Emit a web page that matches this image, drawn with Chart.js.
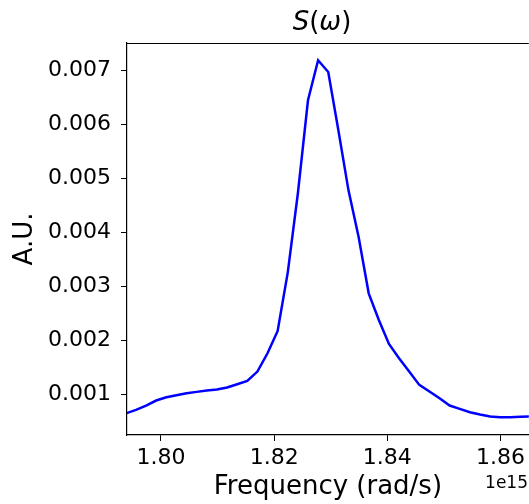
<!DOCTYPE html>
<html>
<head>
<meta charset="utf-8">
<script src="https://cdn.jsdelivr.net/npm/chart.js@4.4.1/dist/chart.umd.min.js"></script>
<style>
  html, body { margin: 0; padding: 0; background: #fff; }
  canvas { display: block; }
</style>
</head>
<body>
<canvas id="chart" width="529" height="504"></canvas>
<script>
// frequency in units of 1e15 rad/s
const freq = [
  1.79380, 1.79559, 1.79737, 1.79916, 1.80095, 1.80274, 1.80453, 1.80631,
  1.80810, 1.80989, 1.81168, 1.81347, 1.81525, 1.81704, 1.81883, 1.82062,
  1.82241, 1.82419, 1.82598, 1.82777, 1.82956, 1.83135, 1.83313, 1.83492,
  1.83671, 1.83850, 1.84029, 1.84207, 1.84386, 1.84565, 1.84744, 1.84923,
  1.85101, 1.85280, 1.85459, 1.85638, 1.85817, 1.85995, 1.86174, 1.86353,
  1.86532
];
const signal = [
  0.000650, 0.000715, 0.000795, 0.000888, 0.000949, 0.000987, 0.001023, 0.001048,
  0.001073, 0.001091, 0.001128, 0.001190, 0.001251, 0.001424, 0.001763, 0.002176,
  0.003260, 0.004720, 0.006445, 0.007185, 0.006969, 0.005891, 0.004782, 0.003919,
  0.002872, 0.002379, 0.001935, 0.001670, 0.001424, 0.001177, 0.001054, 0.000931,
  0.000795, 0.000734, 0.000672, 0.000629, 0.000592, 0.000580, 0.000580, 0.000586,
  0.000592
];
const xTicks = [1.80, 1.82, 1.84, 1.86];
const yTicks = [0.001, 0.002, 0.003, 0.004, 0.005, 0.006, 0.007];

const FONT = "'DejaVu Sans', sans-serif";

// title S(ω) in mathtext style, top spine and the 1e15 offset
const extras = {
  id: 'extras',
  afterDraw(chart) {
    const { ctx, chartArea } = chart;
    ctx.save();
    ctx.strokeStyle = '#000';
    ctx.lineWidth = 1.2;
    ctx.beginPath();
    ctx.moveTo(chartArea.left, chartArea.top + 0.5);
    ctx.lineTo(chartArea.right, chartArea.top + 0.5);
    ctx.stroke();

    ctx.fillStyle = '#000';
    ctx.textBaseline = 'alphabetic';
    const parts = [['S', 'italic'], ['(', 'normal'], ['ω', 'italic'], [')', 'normal']];
    let w = 0;
    parts.forEach(p => { ctx.font = p[1] + ' 26px ' + FONT; w += ctx.measureText(p[0]).width; });
    let x = 322 - w / 2;
    parts.forEach(p => {
      ctx.font = p[1] + ' 26px ' + FONT;
      ctx.fillText(p[0], x, 30);
      x += ctx.measureText(p[0]).width;
    });

    ctx.font = '17px ' + FONT;
    ctx.textAlign = 'right';
    ctx.fillText('1e15', 528, 488);
    ctx.restore();
  }
};

new Chart(document.getElementById('chart'), {
  type: 'line',
  data: {
    datasets: [{
      data: freq.map((f, i) => ({ x: f, y: signal[i] })),
      borderColor: '#0000ff',
      borderWidth: 2.5,
      pointRadius: 0,
      tension: 0,
      fill: false,
      clip: 0
    }]
  },
  options: {
    responsive: false,
    animation: false,
    devicePixelRatio: 1,
    layout: { padding: { top: 43, right: 0, left: 0, bottom: 0 } },
    plugins: { legend: { display: false }, title: { display: false }, tooltip: { enabled: false } },
    scales: {
      x: {
        type: 'linear',
        min: 1.794,
        max: 1.865,
        afterBuildTicks: s => { s.ticks = xTicks.map(v => ({ value: v })); },
        afterFit: s => { s.height = 69; },
        grid: { drawOnChartArea: false, tickLength: 6, color: '#000', tickWidth: 1 },
        border: { display: true, color: '#000', width: 1.2 },
        ticks: {
          color: '#000',
          font: { family: FONT, size: 22 },
          padding: 4,
          maxRotation: 0,
          callback: v => v.toFixed(2)
        },
        title: {
          display: true,
          text: 'Frequency (rad/s)',
          color: '#000',
          font: { family: FONT, size: 26 },
          padding: { top: 0, bottom: 1 }
        }
      },
      y: {
        type: 'linear',
        min: 0.00025,
        max: 0.007505,
        afterBuildTicks: s => { s.ticks = yTicks.map(v => ({ value: v })); },
        afterFit: s => { s.width = 127; },
        grid: { drawOnChartArea: false, tickLength: 6, color: '#000', tickWidth: 1 },
        border: { display: true, color: '#000', width: 1.2 },
        ticks: {
          color: '#000',
          font: { family: FONT, size: 22 },
          padding: 10,
          callback: v => v.toFixed(3)
        },
        title: {
          display: true,
          text: 'A.U.',
          color: '#000',
          font: { family: FONT, size: 26 },
          padding: { top: 10, bottom: 0 }
        }
      }
    }
  },
  plugins: [extras]
});
</script>
</body>
</html>
